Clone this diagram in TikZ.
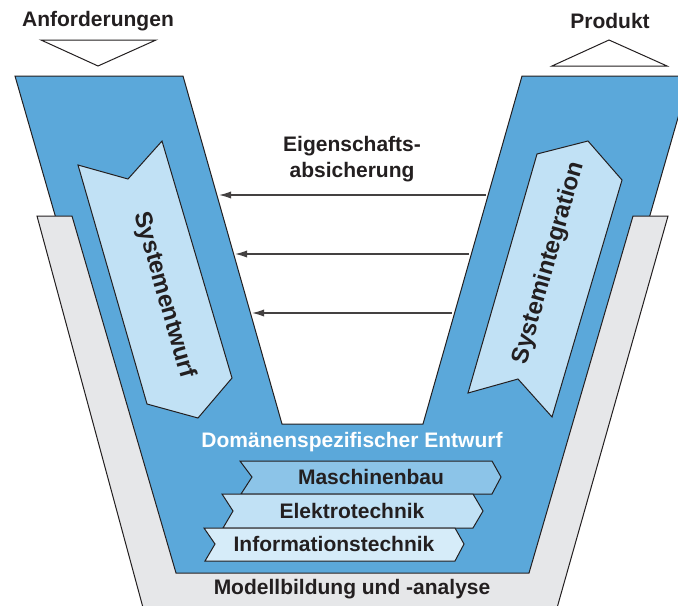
\documentclass[tikz,border=0pt]{standalone}
\usepackage{fontspec}
\setmainfont{Liberation Sans}
\usetikzlibrary{arrows.meta}

\definecolor{vblue}{RGB}{91,168,218}
\definecolor{lblue}{RGB}{193,225,245}
\definecolor{mblue}{RGB}{140,196,232}
\definecolor{pblue}{RGB}{214,236,249}
\definecolor{vgray}{RGB}{230,231,233}
\definecolor{vline}{RGB}{35,31,32}

\begin{document}
\begin{tikzpicture}[x=0.5pt, y=-0.5pt,
  outline/.style={draw=vline, line width=0.5pt, line join=miter},
  lbl/.style={font=\fontsize{10.5}{13}\selectfont\bfseries, text=vline, align=center, inner sep=0pt},
  armlbl/.style={font=\fontsize{12}{14}\selectfont\bfseries, text=vline, inner sep=0pt},
  check/.style={draw=vline!85, line width=0.6pt, -{Latex[length=6pt, width=3.6pt]}}]

  \useasboundingbox (0,0) rectangle (678,605);
  \clip (0,0) rectangle (678,605);

  % V-Modell
  \draw[outline, fill=vblue] (15,76) -- (183,76) -- (282,424) -- (423,424) -- (522,76)
    -- (690,76) -- (545,580) -- (160,580) -- cycle;
  \draw[outline, fill=vgray] (37,216) -- (72,216) -- (176,573) -- (529,573) -- (633,216)
    -- (668,216) -- (555,615) -- (145,615) -- cycle;

  \draw[outline, fill=white] (41,40) -- (156,40) -- (98,66) -- cycle;
  \draw[outline, fill=white] (552,66) -- (667,66) -- (609,40) -- cycle;
  \node[lbl] (anf) at (98,21) {Anforderungen};
  \node[lbl] (prod) at (610,21) {Produkt};

  % Systementwurf / Systemintegration
  \draw[outline, fill=lblue] (78,165) -- (128,179) -- (162,141) -- (232,378) -- (198,418)
    -- (147,404) -- cycle;
  \draw[outline, fill=lblue] (468,393) -- (518,379) -- (552,417) -- (622,180) -- (588,141)
    -- (537,154) -- cycle;
  \node[armlbl, rotate=-74] (entw) at (164,295) {Systementwurf};
  \node[armlbl, rotate=74] (integ) at (549,263) {Systemintegration};

  % Eigenschaftsabsicherung
  \node[lbl] (eig) at (352,159) {Eigenschafts-\\absicherung};
  \coordinate (r1) at (486,195);  \coordinate (l1) at (219,195);
  \coordinate (r2) at (469,254);  \coordinate (l2) at (235,254);
  \coordinate (r3) at (452,313);  \coordinate (l3) at (252,313);
  \draw[check] (r1) -- (l1);
  \draw[check] (r2) -- (l2);
  \draw[check] (r3) -- (l3);

  % Domaenen
  \node[lbl, text=white] (dom) at (352,442) {Domänenspezifischer Entwurf};
  \draw[outline, fill=mblue] (240,461) -- (492,461) -- (501,477) -- (492,494) -- (241,494)
    -- (252,477) -- cycle;
  \draw[outline, fill=lblue] (222,494) -- (473,494) -- (483,511) -- (473,528) -- (223,528)
    -- (233,511) -- cycle;
  \draw[outline, fill=pblue] (204,528) -- (455,528) -- (464,544) -- (455,561) -- (205,561)
    -- (215,544) -- cycle;
  \node[lbl] (masch) at (371,477) {Maschinenbau};
  \node[lbl] (elek) at (352,511) {Elektrotechnik};
  \node[lbl] (info) at (334,544) {Informationstechnik};

  \node[lbl] (model) at (352,589) {Modellbildung und -analyse};
\end{tikzpicture}
\end{document}
